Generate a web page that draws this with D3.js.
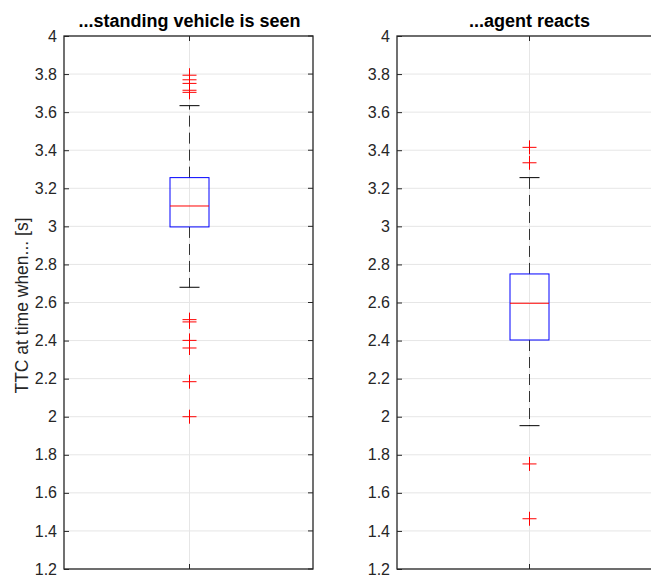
<!DOCTYPE html>
<html>
<head>
<meta charset="utf-8">
<script src="https://cdn.jsdelivr.net/npm/d3@7"></script>
<style>
  body { margin: 0; background: #fff; }
  svg { display: block; font-family: "Liberation Sans", Arial, sans-serif; }
</style>
</head>
<body>
<svg id="chart" width="651" height="576"></svg>
<script>
// panel titles
var titles = ["...standing vehicle is seen", "...agent reacts"];

// box stats per panel: [lowerWhisker, q1, median, q3, upperWhisker]
var seenStats = [2.68, 2.997, 3.107, 3.256, 3.634];
var reactStats = [1.953, 2.403, 2.596, 2.750, 3.256];

// outliers
var seenOutliers = [3.794, 3.77, 3.751, 3.715, 3.704, 2.510, 2.498, 2.401, 2.361, 2.184, 2.000];
var reactOutliers = [3.415, 3.334, 1.752, 1.464];

var yTicks = [1.2, 1.4, 1.6, 1.8, 2, 2.2, 2.4, 2.6, 2.8, 3, 3.2, 3.4, 3.6, 3.8, 4];

var svg = d3.select("#chart");
// NB: "top" is a reserved window property, so use plotTop/plotBottom
var plotTop = 36, plotBottom = 569;

var panels = [
  { x0: 64, x1: 313, title: titles[0], stats: seenStats, out: seenOutliers, ylabel: true },
  { x0: 397, x1: 661, title: titles[1], stats: reactStats, out: reactOutliers, ylabel: false }
];

var y = d3.scaleLinear().domain([1.2, 4]).range([plotBottom, plotTop]);

panels.forEach(function(p) {
  var x = d3.scaleLinear().domain([0.5, 1.5]).range([p.x0, p.x1]);
  var g = svg.append("g");
  var cx = Math.round(x(1)) + 0.5;

  // grid
  g.selectAll(".hgrid").data(yTicks).enter().append("line")
    .attr("x1", p.x0).attr("x2", p.x1)
    .attr("y1", function(d) { return y(d); }).attr("y2", function(d) { return y(d); })
    .attr("stroke", "#e6e6e6").attr("stroke-width", 1);
  g.append("line").attr("x1", cx).attr("x2", cx).attr("y1", plotTop).attr("y2", plotBottom)
    .attr("stroke", "#e6e6e6").attr("stroke-width", 1);

  // left axis (ticks inward)
  var yAxis = d3.axisLeft(y).tickValues(yTicks).tickSizeInner(-5).tickSizeOuter(0)
    .tickPadding(7).tickFormat(d3.format("~g"));
  var ag = g.append("g").attr("transform", "translate(" + p.x0 + ",0)").call(yAxis);
  ag.select(".domain").remove();
  ag.selectAll("line").attr("stroke", "#262626");
  ag.selectAll("text").attr("font-size", 16).attr("fill", "#262626").attr("font-family", "Liberation Sans, Arial, sans-serif");

  // right ticks inward
  g.selectAll(".rt").data(yTicks).enter().append("line")
    .attr("x1", p.x1 - 5).attr("x2", p.x1)
    .attr("y1", function(d) { return y(d); }).attr("y2", function(d) { return y(d); })
    .attr("stroke", "#262626");
  // x ticks top/bottom
  g.append("line").attr("x1", cx).attr("x2", cx).attr("y1", plotBottom).attr("y2", plotBottom - 5).attr("stroke", "#262626");
  g.append("line").attr("x1", cx).attr("x2", cx).attr("y1", plotTop).attr("y2", plotTop + 5).attr("stroke", "#262626");

  // axes box
  g.append("rect").attr("x", p.x0).attr("y", plotTop).attr("width", p.x1 - p.x0).attr("height", plotBottom - plotTop)
    .attr("fill", "none").attr("stroke", "#262626").attr("stroke-width", 1.3);

  var s = p.stats;
  var bw = 39, cw = 20;
  // whiskers
  g.append("line").attr("x1", cx).attr("x2", cx).attr("y1", y(s[3])).attr("y2", y(s[4]))
    .attr("stroke", "#333").attr("stroke-dasharray", "11,6");
  g.append("line").attr("x1", cx).attr("x2", cx).attr("y1", y(s[1])).attr("y2", y(s[0]))
    .attr("stroke", "#333").attr("stroke-dasharray", "11,6");
  [s[0], s[4]].forEach(function(v) {
    g.append("line").attr("x1", cx - cw / 2).attr("x2", cx + cw / 2).attr("y1", y(v)).attr("y2", y(v))
      .attr("stroke", "#000");
  });
  // box
  g.append("rect").attr("x", cx - bw / 2).attr("y", y(s[3])).attr("width", bw).attr("height", y(s[1]) - y(s[3]))
    .attr("fill", "none").attr("stroke", "#0000ff");
  g.append("line").attr("x1", cx - bw / 2).attr("x2", cx + bw / 2).attr("y1", y(s[2])).attr("y2", y(s[2]))
    .attr("stroke", "#ff0000");

  // outliers
  var ms = 7;
  var og = g.selectAll(".out").data(p.out).enter().append("g")
    .attr("transform", function(d) { return "translate(" + cx + "," + y(d) + ")"; });
  og.append("line").attr("x1", -ms).attr("x2", ms).attr("stroke", "#ff0000");
  og.append("line").attr("y1", -ms).attr("y2", ms).attr("stroke", "#ff0000");

  // title
  g.append("text").attr("x", cx).attr("y", 27)
    .attr("text-anchor", "middle").attr("font-weight", "bold").attr("font-size", 18)
    .attr("fill", "#000").text(p.title);

  if (p.ylabel) {
    g.append("text").attr("transform", "translate(28," + ((plotTop + plotBottom) / 2 + 3) + ") rotate(-90)")
      .attr("text-anchor", "middle").attr("font-size", 17.5).attr("fill", "#262626")
      .text("TTC at time when... [s]");
  }
});
</script>
</body>
</html>
